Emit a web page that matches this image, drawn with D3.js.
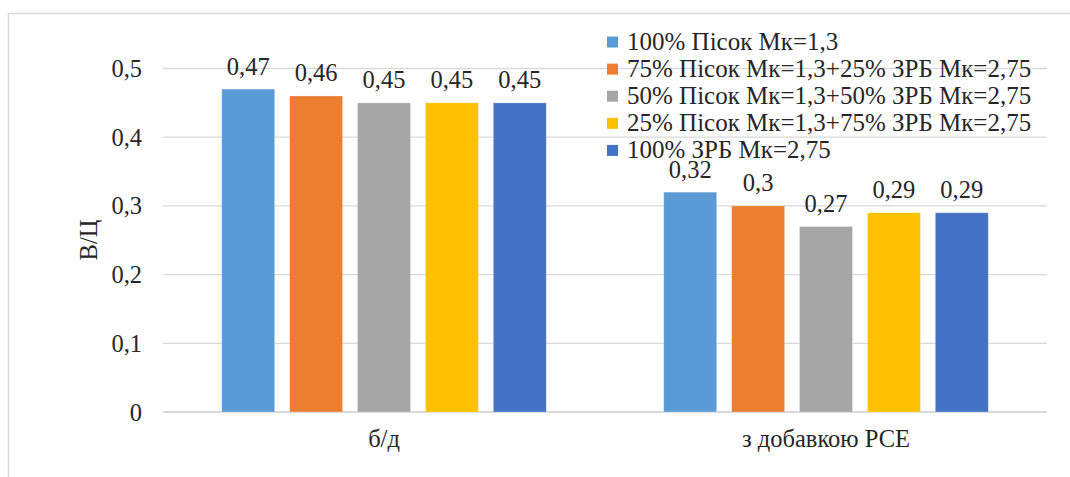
<!DOCTYPE html>
<html>
<head>
<meta charset="utf-8">
<script src="https://cdn.jsdelivr.net/npm/d3@7"></script>
<style>
  html, body { margin: 0; padding: 0; background: #fff; }
  svg { display: block; }
</style>
</head>
<body>
<script>
// Categories (x axis groups)
const categories = ["б/д", "з добавкою РСЕ"];

// Series names and colours
const seriesNames = [
  "100% Пісок Мк=1,3",
  "75% Пісок Мк=1,3+25% ЗРБ Мк=2,75",
  "50% Пісок Мк=1,3+50% ЗРБ Мк=2,75",
  "25% Пісок Мк=1,3+75% ЗРБ Мк=2,75",
  "100% ЗРБ Мк=2,75"
];
const seriesColors = ["#5B9BD5", "#ED7D31", "#A5A5A5", "#FFC000", "#4472C4"];

// Values per series, one per category
const s1 = [0.47, 0.32];
const s2 = [0.46, 0.30];
const s3 = [0.45, 0.27];
const s4 = [0.45, 0.29];
const s5 = [0.45, 0.29];
const seriesValues = [s1, s2, s3, s4, s5];

// Y axis ticks
const yTicks = [0, 0.1, 0.2, 0.3, 0.4, 0.5];
const yTitle = "В/Ц";

const W = 1070, H = 477;
const FONT = "'Liberation Serif', 'Times New Roman', Tinos, serif";
const FS = 24.5;
const LEGEND_FS = 25;
const INK = "#262626";
const fmt = v => String(v).replace(".", ",");

const svg = d3.select("body").append("svg").attr("width", W).attr("height", H)
  .style("font-family", FONT);

// chart frame
svg.append("rect")
  .attr("x", 8.5).attr("y", 13.5)
  .attr("width", W + 20).attr("height", H + 20)
  .attr("fill", "none").attr("stroke", "#D9D9D9").attr("stroke-width", 1.5);

const plot = { left: 163, right: 1047, top: 68.5, bottom: 412 };

const y = d3.scaleLinear().domain([0, 0.5]).range([plot.bottom, plot.top]);
const x0 = d3.scaleBand().domain(categories).range([plot.left, plot.right]).padding(0);
const x1 = d3.scaleBand().domain(d3.range(seriesNames.length))
  .range([0, x0.bandwidth()]).paddingInner(0.22).paddingOuter(0.865);

// gridlines
svg.append("g").selectAll("line").data(yTicks).join("line")
  .attr("x1", plot.left).attr("x2", plot.right)
  .attr("y1", d => y(d)).attr("y2", d => y(d))
  .attr("stroke", "#D9D9D9").attr("stroke-width", d => d === 0 ? 1.8 : 1.3);

// y axis labels
const yAxis = d3.axisLeft(y).tickValues(yTicks).tickFormat(fmt).tickSize(0).tickPadding(0);
const yg = svg.append("g").attr("transform", `translate(${plot.left - 21},0)`).call(yAxis);
yg.attr("font-family", null).attr("font-size", FS);
yg.select(".domain").remove();
yg.selectAll("text").attr("fill", INK).attr("dy", "0.33em");

// y title
svg.append("text")
  .attr("transform", `translate(97,240) rotate(-90)`)
  .attr("text-anchor", "middle")
  .attr("font-size", FS).attr("fill", INK)
  .text(yTitle);

// bars
const groups = svg.append("g").selectAll("g").data(categories).join("g")
  .attr("transform", d => `translate(${x0(d)},0)`);

groups.each(function(cat, ci) {
  const g = d3.select(this);
  const rows = seriesValues.map((vals, si) => ({ si, v: vals[ci] }));
  g.selectAll("rect").data(rows).join("rect")
    .attr("x", d => x1(d.si))
    .attr("width", x1.bandwidth())
    .attr("y", d => y(d.v))
    .attr("height", d => y(0) - y(d.v))
    .attr("fill", d => seriesColors[d.si])
    .attr("stroke", "#fff").attr("stroke-opacity", 0.35).attr("stroke-width", 0.8);
  g.selectAll("text").data(rows).join("text")
    .attr("x", d => x1(d.si) + x1.bandwidth() / 2)
    .attr("y", d => y(d.v) - 14.5)
    .attr("text-anchor", "middle")
    .attr("font-size", FS).attr("fill", INK)
    .text(d => fmt(d.v));
});

// x axis category labels
const xAxis = d3.axisBottom(x0).tickSize(0).tickPadding(0);
const xg = svg.append("g").attr("transform", `translate(0,${plot.bottom})`).call(xAxis);
xg.attr("font-family", null).attr("font-size", FS);
xg.select(".domain").remove();
xg.selectAll("text").attr("dy", null).attr("y", 34.5).attr("fill", INK);

// legend
const legend = svg.append("g").attr("transform", "translate(607,42)");
const li = legend.selectAll("g").data(seriesNames).join("g")
  .attr("transform", (d, i) => `translate(0,${i * 27.1})`);
li.append("rect").attr("x", 0).attr("y", -5.5).attr("width", 11).attr("height", 11)
  .attr("fill", (d, i) => seriesColors[i]);
li.append("text").attr("x", 20).attr("y", 8)
  .attr("font-size", LEGEND_FS).attr("fill", INK)
  .text(d => d);
</script>
</body>
</html>
